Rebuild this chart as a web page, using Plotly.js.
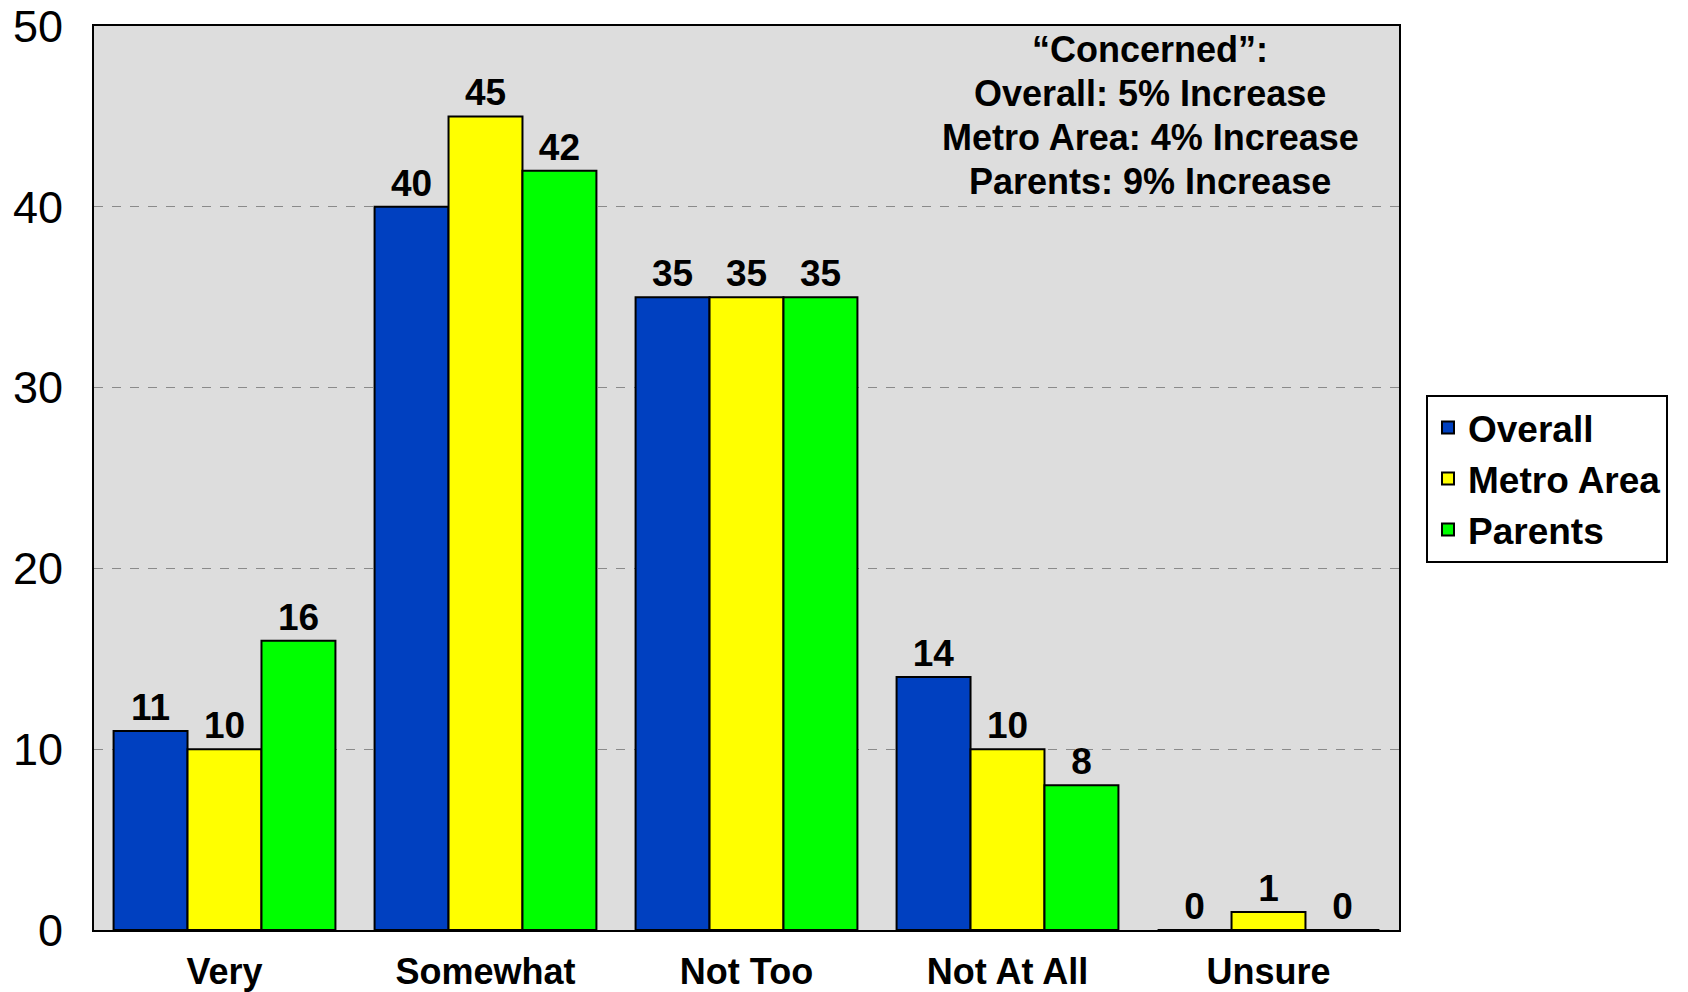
<!DOCTYPE html>
<html>
<head>
<meta charset="utf-8">
<script src="https://cdn.plot.ly/plotly-3.0.1.min.js"></script>
<style>html,body{margin:0;padding:0;background:#fff;}#chart{width:1688px;height:992px;}</style>
</head>
<body>
<div id="chart"></div>
<script>
const categories = ["Very", "Somewhat", "Not Too", "Not At All", "Unsure"];
const overall = [11, 40, 35, 14, 0];
const metroArea = [10, 45, 35, 10, 1];
const parents = [16, 42, 35, 8, 0];
const seriesNames = ["Overall", "Metro Area", "Parents"];
const seriesColors = ["#0040C0", "#FFFF00", "#00FF00"];
const yTicks = [0, 10, 20, 30, 40, 50];
const noteLines = ["“Concerned”:", "Overall: 5% Increase", "Metro Area: 4% Increase", "Parents: 9% Increase"];

const FONT = "Liberation Sans, Arial, sans-serif";
const seriesValues = [overall, metroArea, parents];
const traces = seriesValues.map((vals, i) => ({
  type: "bar",
  name: seriesNames[i],
  x: categories,
  y: vals,
  text: vals.map(String),
  textposition: "outside",
  cliponaxis: false,
  textfont: {family: FONT, size: 37, color: "#000", weight: "bold"},
  marker: {color: seriesColors[i], line: {color: "#000", width: 2}},
  hoverinfo: "none"
}));

// note block: one annotation per line, tighter line spacing than Plotly's default
const plotTop = 26, plotH = 904, firstLine = 49.5, lineGap = 44.1;
const annotations = noteLines.map((t, k) => ({
  xref: "paper", yref: "paper",
  x: (1150 - 94) / 1305,
  y: 1 - (firstLine + k * lineGap - plotTop) / plotH,
  xanchor: "center", yanchor: "middle",
  text: t, showarrow: false,
  font: {family: FONT, size: 36, color: "#000", weight: "bold"}
}));

const layout = {
  width: 1688, height: 992,
  margin: {l: 94, r: 289, t: 26, b: 62},
  paper_bgcolor: "#ffffff",
  plot_bgcolor: "#DDDDDD",
  barmode: "group",
  bargap: 0.15,
  bargroupgap: 0,
  font: {family: FONT, color: "#000"},
  showlegend: true,
  legend: {
    x: 1.0207, xanchor: "left", y: 0.592, yanchor: "top",
    bgcolor: "#ffffff", bordercolor: "#000", borderwidth: 2,
    font: {family: FONT, size: 37, color: "#000", weight: "bold"},
    itemclick: false
  },
  xaxis: {
    showline: true, linecolor: "#000", linewidth: 2, mirror: true,
    ticks: "", tickfont: {family: FONT, size: 36, color: "#000", weight: "bold"},
    ticklabelstandoff: 9
  },
  yaxis: {
    range: [0, 50], tickvals: yTicks, ticktext: yTicks.map(String),
    showline: true, linecolor: "#000", linewidth: 2, mirror: true,
    showgrid: true, gridcolor: "#8a8a8a", griddash: "dash", gridwidth: 1,
    zeroline: false, ticks: "",
    tickfont: {family: FONT, size: 45, color: "#000"},
    ticklabelstandoff: 20
  },
  annotations: annotations
};

Plotly.newPlot("chart", traces, layout, {displayModeBar: false, staticPlot: true});
</script>
</body>
</html>
